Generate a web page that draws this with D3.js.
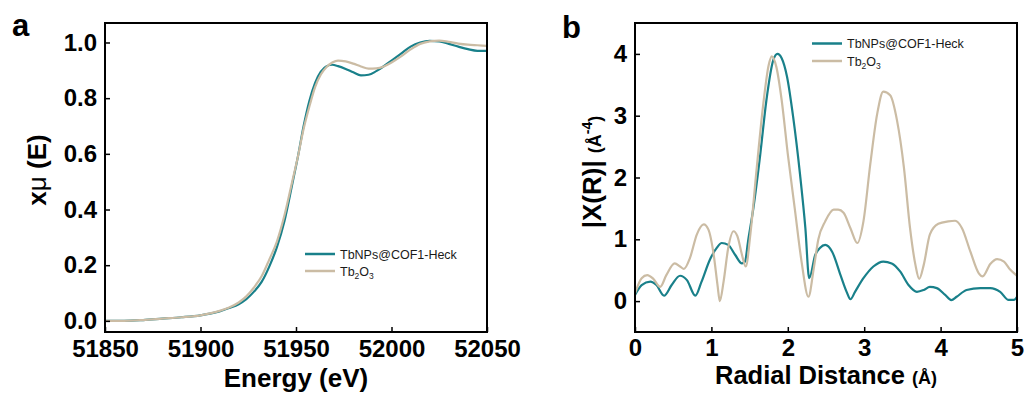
<!DOCTYPE html>
<html>
<head>
<meta charset="utf-8">
<script src="https://cdn.jsdelivr.net/npm/d3@7"></script>
<style>
  html, body { margin: 0; padding: 0; background: #fff; }
  svg { display: block; font-family: "Liberation Sans", Arial, sans-serif; }
</style>
</head>
<body>
<svg id="chart" width="1027" height="396"></svg>
<script>
// ---------- Data: panel a (XANES) ----------
const energyA = [51850, 51860, 51870, 51880, 51890, 51900, 51905, 51910, 51915, 51920, 51924, 51928, 51932, 51936, 51940, 51944, 51948, 51951, 51954, 51957, 51960, 51963, 51966, 51969, 51972, 51976, 51980, 51984, 51988, 51992, 51996, 52000, 52005, 52010, 52015, 52020, 52025, 52030, 52035, 52040, 52045, 52050];
const tbnpsA = [0.0, 0.0, 0.003, 0.008, 0.013, 0.02, 0.026, 0.034, 0.046, 0.060, 0.078, 0.105, 0.14, 0.195, 0.265, 0.36, 0.49, 0.59, 0.70, 0.79, 0.855, 0.895, 0.915, 0.92, 0.915, 0.905, 0.893, 0.882, 0.884, 0.897, 0.915, 0.935, 0.96, 0.985, 1.0, 1.006, 1.004, 0.995, 0.985, 0.976, 0.97, 0.97];
const tb2o3A = [0.0, 0.0, 0.003, 0.008, 0.013, 0.02, 0.027, 0.036, 0.048, 0.066, 0.088, 0.12, 0.16, 0.22, 0.285, 0.38, 0.50, 0.59, 0.69, 0.77, 0.84, 0.885, 0.912, 0.928, 0.935, 0.932, 0.924, 0.914, 0.906, 0.907, 0.914, 0.928, 0.95, 0.975, 0.995, 1.004, 1.007, 1.002, 0.996, 0.992, 0.99, 0.988];
const xTicksA = [51850, 51900, 51950, 52000, 52050];
const yTicksA = [0.0, 0.2, 0.4, 0.6, 0.8, 1.0];

// ---------- Data: panel b (FT-EXAFS) ----------
const rTbnps = [0, 0.087, 0.2, 0.28, 0.38, 0.48, 0.59, 0.68, 0.79, 0.87, 0.98, 1.07, 1.135, 1.22, 1.31, 1.4, 1.44, 1.48, 1.55, 1.64, 1.72, 1.81, 1.865, 1.92, 1.99, 2.07, 2.16, 2.23, 2.28, 2.36, 2.42, 2.49, 2.58, 2.69, 2.77, 2.82, 2.88, 2.99, 3.12, 3.25, 3.36, 3.47, 3.58, 3.69, 3.78, 3.86, 3.95, 4.06, 4.14, 4.21, 4.34, 4.52, 4.65, 4.78, 4.89, 4.96, 5.0];
const vTbnps = [0.1, 0.26, 0.315, 0.26, 0.087, 0.26, 0.41, 0.34, 0.087, 0.31, 0.67, 0.86, 0.94, 0.91, 0.75, 0.61, 0.64, 0.97, 1.51, 2.38, 3.25, 3.9, 4.0, 3.93, 3.63, 2.98, 2.05, 1.18, 0.37, 0.75, 0.86, 0.91, 0.8, 0.42, 0.15, 0.03, 0.15, 0.37, 0.56, 0.64, 0.61, 0.48, 0.26, 0.15, 0.18, 0.23, 0.21, 0.1, 0.016, 0.07, 0.18, 0.21, 0.21, 0.15, 0.02, 0.02, 0.07];
const rTb2o3 = [0, 0.087, 0.16, 0.24, 0.33, 0.41, 0.52, 0.59, 0.64, 0.72, 0.81, 0.9, 0.96, 1.03, 1.08, 1.11, 1.16, 1.22, 1.29, 1.34, 1.4, 1.45, 1.51, 1.59, 1.68, 1.75, 1.79, 1.85, 1.92, 2.0, 2.09, 2.18, 2.27, 2.34, 2.4, 2.49, 2.6, 2.66, 2.73, 2.82, 2.91, 2.99, 3.08, 3.17, 3.25, 3.34, 3.43, 3.52, 3.6, 3.67, 3.72, 3.78, 3.86, 3.97, 4.1, 4.19, 4.28, 4.39, 4.5, 4.55, 4.65, 4.74, 4.83, 4.91, 5.0];
const vTb2o3 = [0.125, 0.37, 0.42, 0.36, 0.23, 0.42, 0.61, 0.56, 0.52, 0.7, 1.08, 1.24, 1.16, 0.75, 0.26, 0.0, 0.32, 0.86, 1.13, 1.05, 0.75, 0.56, 1.08, 2.11, 3.2, 3.82, 3.96, 3.79, 3.25, 2.38, 1.51, 0.64, 0.07, 0.53, 1.0, 1.29, 1.48, 1.48, 1.43, 1.18, 0.94, 1.29, 2.22, 3.03, 3.39, 3.33, 2.92, 2.16, 1.18, 0.59, 0.36, 0.59, 1.08, 1.25, 1.29, 1.3, 1.18, 0.8, 0.45, 0.4, 0.6, 0.68, 0.64, 0.51, 0.41];
const xTicksB = [0, 1, 2, 3, 4, 5];
const yTicksB = [0, 1, 2, 3, 4];

const seriesNames = ["TbNPs@COF1-Heck", "Tb2O3"];
const colTeal = "#19808a";
const colBeige = "#cbbca4";

const svg = d3.select("#chart");
svg.append("rect").attr("width", 1027).attr("height", 396).attr("fill", "#fff");

function drawPanel(opt) {
  const x = d3.scaleLinear().domain(opt.xDomain).range([opt.left, opt.right]);
  const y = d3.scaleLinear().domain(opt.yDomain).range([opt.bottom, opt.top]);
  const g = svg.append("g");
  const clipId = "clip" + opt.id;
  svg.append("clipPath").attr("id", clipId).append("rect")
    .attr("x", opt.left).attr("y", opt.top)
    .attr("width", opt.right - opt.left).attr("height", opt.bottom - opt.top);

  const line = d3.line().x(d => x(d[0])).y(d => y(d[1])).curve(d3.curveMonotoneX);
  opt.series.forEach(s => {
    g.append("path")
      .attr("clip-path", `url(#${clipId})`)
      .attr("d", line(s.xs.map((v, i) => [v, s.ys[i]])))
      .attr("fill", "none").attr("stroke", s.color).attr("stroke-width", 2.2)
      .attr("stroke-linejoin", "round");
  });

  const xAxis = d3.axisBottom(x).tickValues(opt.xTicks).tickFormat(opt.xFmt)
    .tickSizeInner(-5).tickSizeOuter(0).tickPadding(opt.xPad);
  const gx = g.append("g").attr("transform", `translate(0,${opt.bottom})`).call(xAxis);
  const yAxis = d3.axisLeft(y).tickValues(opt.yTicks).tickFormat(opt.yFmt)
    .tickSizeInner(-5).tickSizeOuter(0).tickPadding(8);
  const gy = g.append("g").attr("transform", `translate(${opt.left},0)`).call(yAxis);
  [gx, gy].forEach(a => {
    a.select(".domain").remove();
    a.selectAll("line").attr("stroke", "#000").attr("stroke-width", 1.5);
    a.selectAll("text").attr("font-size", 24).attr("font-weight", "bold")
      .attr("fill", "#000").attr("font-family", '"Liberation Sans", Arial, sans-serif');
  });

  g.append("rect").attr("x", opt.left).attr("y", opt.top)
    .attr("width", opt.right - opt.left).attr("height", opt.bottom - opt.top)
    .attr("fill", "none").attr("stroke", "#000").attr("stroke-width", 2);

  // legend
  opt.series.forEach((s, i) => {
    const ly = opt.legendY + i * opt.legendGap;
    g.append("line").attr("x1", opt.legendX).attr("x2", opt.legendX + 30)
      .attr("y1", ly).attr("y2", ly).attr("stroke", s.color).attr("stroke-width", 2.5);
    const t = g.append("text").attr("x", opt.legendX + 35).attr("y", ly + 4.5)
      .attr("font-size", 12.5).attr("fill", "#1a1a1a");
    if (s.name === "Tb2O3") {
      t.append("tspan").text("Tb");
      t.append("tspan").attr("dy", 3).attr("font-size", 8.5).text("2");
      t.append("tspan").attr("dy", -3).text("O");
      t.append("tspan").attr("dy", 3).attr("font-size", 8.5).text("3");
    } else {
      t.text(s.name);
    }
  });
  return g;
}

const gA = drawPanel({
  id: "a", left: 105, right: 487, top: 23, bottom: 332,
  xDomain: [51850, 52050], yDomain: [-0.04, 1.07],
  xTicks: xTicksA, yTicks: yTicksA, xPad: 8,
  xFmt: d3.format("d"), yFmt: d3.format(".1f"),
  series: [
    { name: seriesNames[0], xs: energyA, ys: tbnpsA, color: colTeal },
    { name: seriesNames[1], xs: energyA, ys: tb2o3A, color: colBeige }
  ],
  legendX: 305, legendY: 254, legendGap: 17
});

const gB = drawPanel({
  id: "b", left: 635, right: 1017, top: 23, bottom: 332,
  xDomain: [0, 5], yDomain: [-0.5, 4.5],
  xTicks: xTicksB, yTicks: yTicksB, xPad: 7,
  xFmt: d3.format("d"), yFmt: d3.format("d"),
  series: [
    { name: seriesNames[0], xs: rTbnps, ys: vTbnps, color: colTeal },
    { name: seriesNames[1], xs: rTb2o3, ys: vTb2o3, color: colBeige }
  ],
  legendX: 812, legendY: 43.5, legendGap: 17.5
});

// Panel labels
svg.append("text").attr("x", 12).attr("y", 36).attr("font-size", 31).attr("font-weight", "bold").text("a");
svg.append("text").attr("x", 562).attr("y", 38).attr("font-size", 31).attr("font-weight", "bold").text("b");

// Axis titles
svg.append("text").attr("x", 296).attr("y", 387).attr("text-anchor", "middle")
  .attr("font-size", 26).attr("font-weight", "bold").text("Energy (eV)");

const ta = svg.append("text").attr("transform", "translate(46,170) rotate(-90)")
  .attr("text-anchor", "middle").attr("font-size", 26).attr("font-weight", "bold");
ta.append("tspan").text("x");
ta.append("tspan").attr("font-weight", "normal").text("μ");
ta.append("tspan").text(" (E)");

const tbx = svg.append("text").attr("x", 826).attr("y", 384).attr("text-anchor", "middle")
  .attr("font-weight", "bold").attr("font-size", 25.5);
tbx.append("tspan").text("Radial Distance ");
tbx.append("tspan").attr("font-size", 18).text("(Å)");

const tby = svg.append("text").attr("transform", "translate(601,172) rotate(-90)")
  .attr("text-anchor", "middle").attr("font-weight", "bold").attr("font-size", 26);
tby.append("tspan").text("|X(R)| ");
tby.append("tspan").attr("font-size", 18).text("(Å");
tby.append("tspan").attr("font-size", 14).attr("dy", -9).text("-4");
tby.append("tspan").attr("font-size", 18).attr("dy", 9).text(")");
</script>
</body>
</html>
